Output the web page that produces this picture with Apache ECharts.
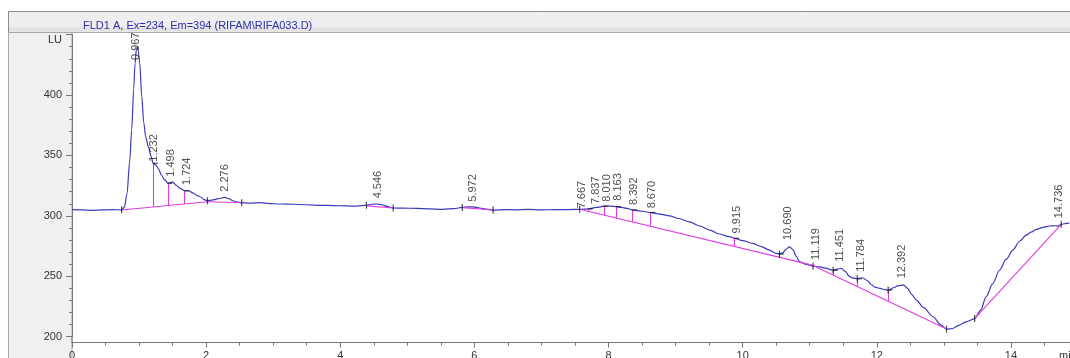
<!DOCTYPE html>
<html>
<head>
<meta charset="utf-8">
<script src="https://cdn.jsdelivr.net/npm/echarts@6/dist/echarts.min.js"></script>
<style>
html,body{margin:0;padding:0;background:#fff;}
#chart{width:1070px;height:358px;}
</style>
</head>
<body>
<div id="chart"></div>
<script>
// ---- signal (time in min, LU) ----
const times = [0.00,0.15,0.30,0.45,0.60,0.74,0.78,0.82,0.86,0.89,0.92,0.94,0.96,0.975,0.99,1.01,1.04,1.07,1.10,1.14,1.18,1.21,1.25,1.29,1.33,1.38,1.43,1.47,1.50,1.55,1.61,1.68,1.74,1.80,1.86,1.91,1.97,2.02,2.10,2.18,2.28,2.34,2.40,2.47,2.53,2.65,2.80,2.95,3.10,3.30,3.50,3.70,3.90,4.10,4.25,4.39,4.47,4.54,4.62,4.70,4.79,4.95,5.14,5.33,5.53,5.70,5.82,5.90,5.98,6.08,6.18,6.28,6.45,6.60,6.80,7.00,7.20,7.40,7.57,7.70,7.82,7.94,8.04,8.12,8.20,8.27,8.37,8.50,8.64,8.76,8.91,9.05,9.21,9.36,9.51,9.65,9.80,9.88,10.00,10.15,10.28,10.40,10.50,10.55,10.60,10.65,10.70,10.75,10.80,10.85,10.95,11.05,11.15,11.25,11.35,11.41,11.47,11.53,11.59,11.65,11.71,11.79,11.86,11.92,11.97,12.05,12.12,12.17,12.25,12.32,12.40,12.46,12.52,12.59,12.70,12.84,12.95,13.04,13.13,13.23,13.33,13.46,13.55,13.63,13.73,13.83,13.93,14.03,14.13,14.23,14.30,14.38,14.48,14.58,14.66,14.70,14.75,14.81,14.87];
const signal = [305.2,305.0,304.6,304.9,305.1,305.0,307,318,345,371,405,426,438,440,436,426,399,377,365,357,349,343.5,342,339,334,330,327,327.5,328.2,325.5,322.8,320.8,320.8,319,317,315.8,313.5,312.5,313.2,314.2,315.3,314.2,312.5,311.3,310.9,310.5,310.9,310.2,309.8,309.6,309.2,308.7,308.5,308.2,308.0,308.8,309.6,309.8,309.2,307.8,306.5,306.4,306.2,305.8,305.4,306.0,307.0,307.5,307.5,306.5,305.5,304.8,305.2,305.0,305.3,305.0,305.1,305.2,305.4,305.8,307.0,308.0,308.0,307.6,307.0,306.2,304.8,303.8,302.6,301.5,300.0,297.8,295.0,291.6,288.2,285.0,282.8,281.4,279.5,277.2,274.5,271.7,269.0,268.4,269.5,272.5,274.4,272.0,266.5,262.0,259.8,258.4,257.8,256.5,255.0,256.0,256.5,254.0,250.0,248.5,248.0,248.8,246.5,243.0,241.0,240.0,239.0,238.6,240.5,242.2,242.7,240.0,235.0,230.3,224.0,216.5,210.0,206.3,206.8,209.6,212.3,215.0,222.0,233.0,244.0,255.0,264.0,271.7,279.0,284.0,286.5,288.8,290.5,291.6,291.8,291.5,293.0,293.6,294.0];

// ---- integration baselines [t0, v0, t1, v1] ----
const baselines = [
  [0.74, 304.8, 2.02, 311.7],
  [2.02, 311.7, 2.53, 310.9],
  [4.39, 308.3, 4.79, 306.5],
  [5.82, 306.8, 6.28, 304.8],
  [7.57, 305.4, 11.05, 259.0],
  [11.05, 259.0, 13.04, 206.3],
  [13.46, 215.0, 14.75, 293.0]
];

// ---- drop lines ----
const dropT    = [1.21, 1.43, 1.68, 7.70, 7.93, 8.12, 8.36, 8.63, 9.88, 10.55, 11.35, 11.71, 12.17];
const dropBase = [307.3, 308.5, 309.8, 303.7, 300.6, 298.1, 294.9, 291.3, 274.7, 265.7, 251.1, 241.5, 229.3];
const dropTop  = [343.5, 327.0, 320.8, 305.8, 308.0, 307.6, 304.9, 302.8, 281.4, 268.4, 255.0, 248.0, 238.6];

// ---- peak start / end marks ----
const markT = [0.74, 2.02, 2.53, 4.39, 4.79, 5.82, 6.28, 7.57, 10.55, 11.05, 11.35, 11.71, 12.17, 13.04, 13.46, 14.75];
const markV = [305.0, 312.5, 310.9, 308.8, 306.5, 307.0, 304.8, 305.4, 268.4, 258.4, 255.0, 248.0, 238.6, 206.3, 215.0, 293.0];

// ---- retention time labels ----
const peakLabels = ['0.967','1.232','1.498','1.724','2.276','4.546','5.972','7.667','7.837','8.010','8.163','8.392','8.670','9.915','10.690','11.119','11.451','11.784','12.392','14.736'];
const labelT = [0.954, 1.22, 1.475, 1.72, 2.28, 4.56, 5.98, 7.61, 7.81, 7.98, 8.14, 8.38, 8.65, 9.91, 10.68, 11.10, 11.45, 11.77, 12.37, 14.72];
const labelV = [429.0, 344.8, 332.4, 325.5, 320.0, 314.5, 311.7, 306.2, 309.8, 311.7, 312.5, 309.0, 306.2, 285.5, 280.0, 263.4, 262.0, 253.7, 248.3, 298.0];

// ---- axes ----
const xTickLabels = [0, 2, 4, 6, 8, 10, 12, 14];
const yTickLabels = [200, 250, 300, 350, 400];
const titleText = 'FLD1 A, Ex=234, Em=394 (RIFAM\\RIFA033.D)';

const FONT = '"Liberation Sans", Arial, sans-serif';
const BLUE = '#3a3abd';
const MAGENTA = '#e03ce0';

const chart = echarts.init(document.getElementById('chart'), null, {renderer: 'canvas'});

const option = {
  animation: false,
  backgroundColor: '#ffffff',
  title: {
    text: titleText,
    left: 78, top: 15,
    textStyle: {fontFamily: FONT, fontSize: 11, fontWeight: 'normal', color: '#2e2ea8'}
  },
  graphic: [
    {type: 'rect', z: -10, shape: {x: 8.5, y: 11.5, width: 1070, height: 21}, style: {fill: '#eeeeee', stroke: '#8c8c8c', lineWidth: 1}},
    {type: 'rect', z: -10, shape: {x: 9, y: 27.5, width: 1070, height: 4}, style: {fill: '#e2e2e2'}},
    {type: 'rect', z: -10, shape: {x: 8.5, y: 32.5, width: 63.5, height: 330}, style: {fill: '#f0f0f0', stroke: '#a8a8a8', lineWidth: 1}},
    {type: 'line', z: -9, shape: {x1: 72, y1: 32.5, x2: 1070, y2: 32.5}, style: {stroke: '#a8a8a8', lineWidth: 1}},
    {type: 'line', z: 5, shape: {x1: 72, y1: 336, x2: 72, y2: 343}, style: {stroke: '#777777', lineWidth: 1}}
  ],
  grid: {left: 72, right: -75, top: 34.6, bottom: 21.3, containLabel: false, outerBoundsMode: 'none'},
  xAxis: {
    type: 'value', min: 0, max: 16, interval: 2, offset: 6,
    name: 'min', nameLocation: 'end', nameGap: -86,
    nameTextStyle: {fontFamily: FONT, fontSize: 11, color: '#333', align: 'left', verticalAlign: 'top', padding: [8, 0, 0, 0]},
    axisLine: {show: true, lineStyle: {color: '#777', width: 1}},
    axisTick: {show: true, length: 5, lineStyle: {color: '#777'}},
    minorTick: {show: true, splitNumber: 4, length: 3, lineStyle: {color: '#777'}},
    splitLine: {show: false},
    axisLabel: {
      margin: 8, fontFamily: FONT, fontSize: 11, color: '#333',
      formatter: v => xTickLabels.indexOf(v) >= 0 ? String(v) : ''
    }
  },
  yAxis: {
    type: 'value', min: 200, max: 450, interval: 50,
    name: 'LU', nameLocation: 'end', nameGap: -5,
    nameTextStyle: {fontFamily: FONT, fontSize: 11, color: '#333', align: 'right', verticalAlign: 'middle', padding: [0, 10, 0, 0]},
    axisLine: {show: true, lineStyle: {color: '#777', width: 1}},
    axisTick: {show: true, length: 6, lineStyle: {color: '#777'}},
    minorTick: {show: true, splitNumber: 5, length: 3, lineStyle: {color: '#777'}},
    splitLine: {show: false},
    axisLabel: {
      margin: 10, fontFamily: FONT, fontSize: 11, color: '#333',
      formatter: v => yTickLabels.indexOf(v) >= 0 ? String(v) : ''
    }
  },
  series: [
    {
      type: 'line', name: 'signal',
      data: times.map((t, i) => [t, signal[i]]),
      showSymbol: false, smooth: 0.3, smoothMonotone: 'x',
      lineStyle: {color: BLUE, width: 1.2}, z: 3
    },
    {
      type: 'lines', coordinateSystem: 'cartesian2d', name: 'baselines',
      data: baselines.map(b => ({coords: [[b[0], b[1]], [b[2], b[3]]]})),
      lineStyle: {color: MAGENTA, width: 1.1, opacity: 1}, z: 4
    },
    {
      type: 'lines', coordinateSystem: 'cartesian2d', name: 'drops',
      data: dropT.map((t, i) => ({coords: [[t, dropBase[i]], [t, dropTop[i]]]})),
      lineStyle: {color: MAGENTA, width: 1.1, opacity: 1}, z: 4
    },
    {
      type: 'scatter', name: 'marks',
      data: markT.map((t, i) => [t, markV[i]]),
      symbol: 'rect', symbolSize: [1.2, 7],
      itemStyle: {color: '#1a1a1a'}, z: 5
    },
    {
      type: 'scatter', name: 'dropMarks',
      data: dropT.map((t, i) => [t, dropTop[i]]),
      symbol: 'rect', symbolSize: [5, 1.2], symbolOffset: [2, 0],
      itemStyle: {color: '#1a1a1a'}, z: 5
    },
    {
      type: 'scatter', name: 'labels',
      data: labelT.map((t, i) => ({value: [t, labelV[i]], name: peakLabels[i]})),
      symbolSize: 0, z: 6,
      label: {
        show: true, position: 'top', distance: 0, rotate: 90,
        align: 'left', verticalAlign: 'middle',
        formatter: p => p.name,
        fontFamily: FONT, fontSize: 11, color: '#222'
      }
    }
  ]
};
chart.setOption(option);
</script>
</body>
</html>
